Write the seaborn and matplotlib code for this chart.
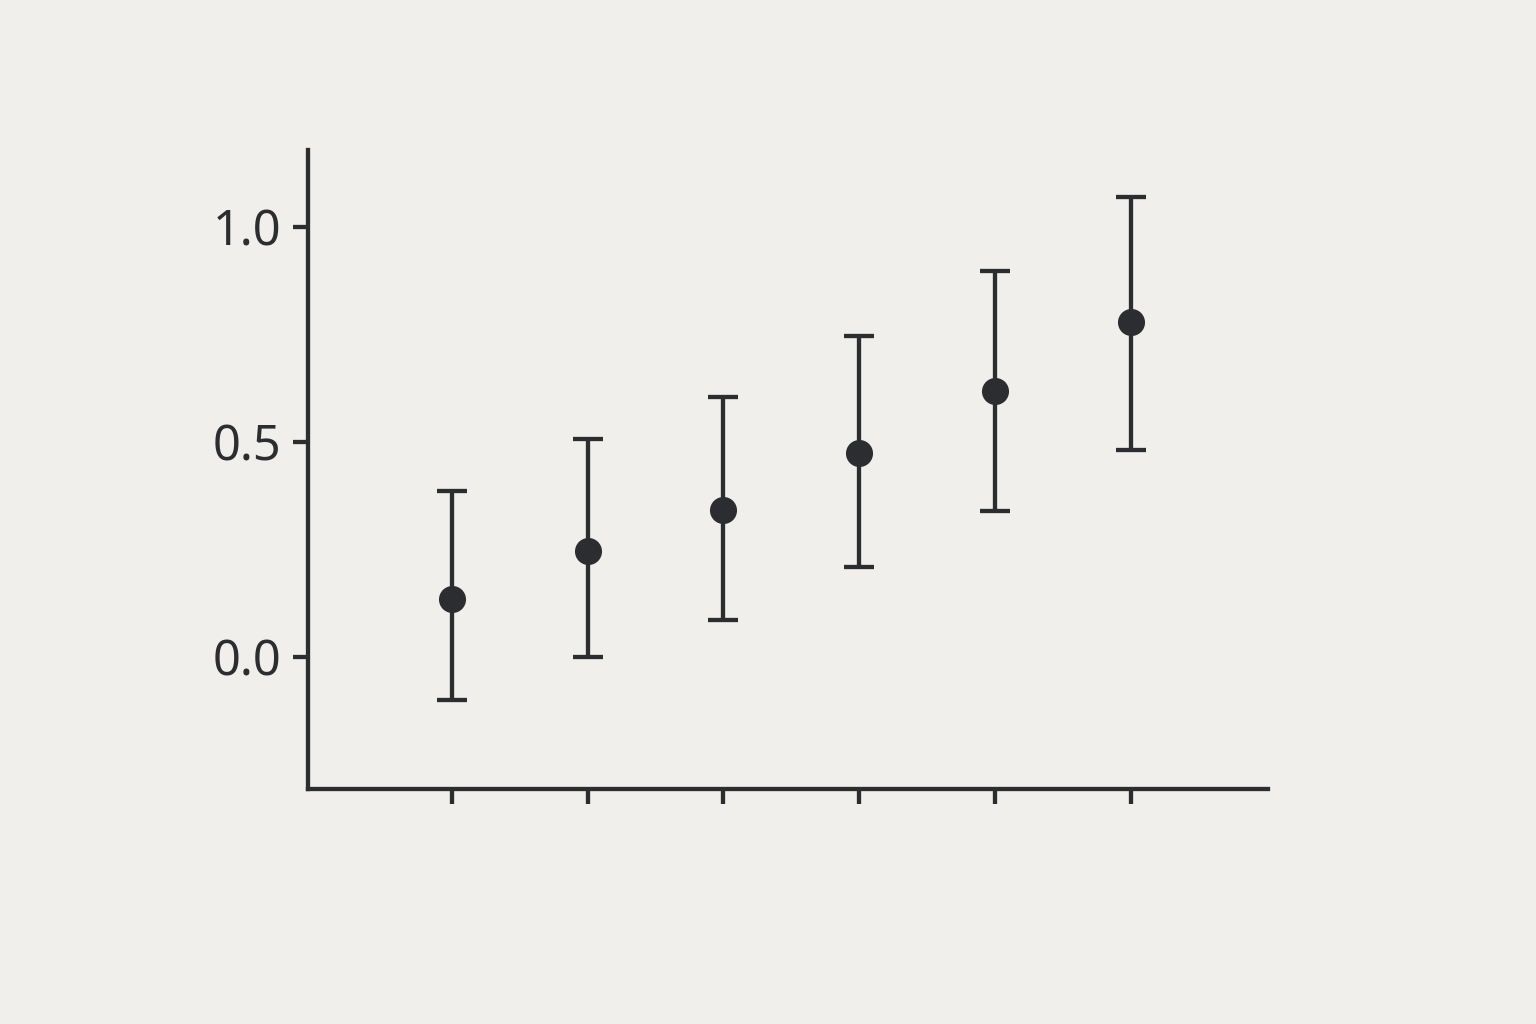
import numpy as np
import pandas as pd
import seaborn as sns
from matplotlib import pyplot as plt

# values
positions = [0, 1, 2, 3, 4, 5]
means = [0.135, 0.247, 0.342, 0.474, 0.619, 0.779]
upper = [0.386, 0.507, 0.605, 0.747, 0.898, 1.070]
lower = [-0.100, 0.000, 0.086, 0.209, 0.340, 0.481]
ytick_values = [0.0, 0.5, 1.0]
ytick_labels = ['0.0', '0.5', '1.0']

bg = '#f0efeb'
ink = '#2b2d31'

sns.set_theme(style='ticks')
plt.rcParams['font.family'] = ['Noto Sans', 'DejaVu Sans']

df = pd.DataFrame({'pos': positions, 'mean': means, 'lo': lower, 'hi': upper})

fig = plt.figure(figsize=(15.36, 10.24), dpi=100, facecolor=bg)
ax = fig.add_axes([0.2005, 0.2295, 0.625, 0.624])
ax.set_facecolor(bg)

yerr = np.array([df['mean'] - df['lo'], df['hi'] - df['mean']])
ax.errorbar(df['pos'], df['mean'], yerr=yerr, fmt='none', ecolor=ink,
            elinewidth=3.1, capsize=11, capthick=3.1, zorder=2)
sns.scatterplot(data=df, x='pos', y='mean', ax=ax, color=ink, s=380,
                edgecolor=ink, linewidth=0, zorder=3, legend=False)

ax.set_xlim(-1.06, 6.01)
ax.set_ylim(-0.307, 1.179)
ax.set_xticks(positions)
ax.set_xticklabels([])
ax.set_yticks(ytick_values)
ax.set_yticklabels(ytick_labels)
ax.set_xlabel('')
ax.set_ylabel('')

for side in ['top', 'right']:
    ax.spines[side].set_visible(False)
for side in ['left', 'bottom']:
    ax.spines[side].set_color(ink)
    ax.spines[side].set_linewidth(3.1)

ax.tick_params(axis='both', colors=ink, width=3.1, length=11, direction='out')
ax.tick_params(axis='y', labelsize=35, pad=8, labelcolor=ink)

fig.savefig('out.png', dpi=100, facecolor=bg)
